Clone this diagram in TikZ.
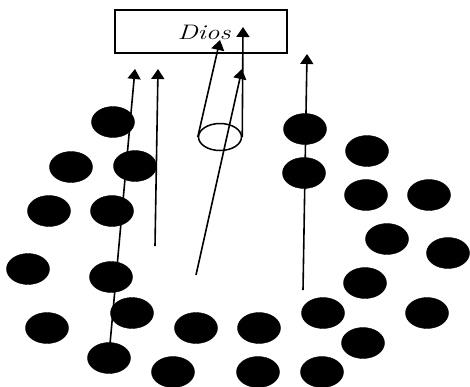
\documentclass[tikz,border=0pt]{standalone}
\usepackage{fontspec}
\setmainfont{Latin Modern Roman}
\usetikzlibrary{shapes.geometric,arrows.meta}
\begin{document}
\begin{tikzpicture}[x=1pt,y=-1pt,
  blob/.style={ellipse,fill=black,draw=black,minimum width=43pt,minimum height=31pt,inner sep=0pt},
  arr/.style={line width=1.6pt,-{Triangle[width=13pt,length=10pt]}}]
\useasboundingbox (0,0) rectangle (470,386);
\node[draw,line width=1.6pt,minimum width=172pt,minimum height=43pt,inner sep=0pt] (dios) at (201,31.5) {};
\node[font=\fontsize{21}{21}\selectfont\itshape\addfontfeature{FakeStretch=1.3},inner sep=0pt] (lbl) at (204,32) {Dios};
\foreach \n/\x/\y in {a1/113/122,a2/71/167,a3/135/166,a4/49/211,a5/112/211,a6/28/269,a7/111/277,a8/132/313,a9/47/328,a10/196/328,a11/109/358,a12/173/372,
 b1/305/129,b2/367/151,b3/304/173,b4/366/195,b5/429/195,b6/387/239,b7/448/253,b8/365/283,b9/323/313,b10/427/313,b11/259/328,b12/363/343,b13/258/372,b14/322/372}
  \node[blob] (\n) at (\x,\y) {};
\node[ellipse,draw,line width=1.5pt,minimum width=43pt,minimum height=27pt,inner sep=0pt] (cyl) at (220,137) {};
\coordinate (t1) at (220,40);
\coordinate (t2) at (243,27);
\coordinate (t3) at (242,69);
\coordinate (t4) at (135,69);
\coordinate (t5) at (158,69);
\coordinate (t6) at (307,54);
\coordinate (s3) at (196,275);
\coordinate (s4) at (108,366);
\coordinate (s5) at (155,246);
\coordinate (s6) at (303,290);
\draw[arr] (cyl.west) -- (t1);
\draw[arr] (cyl.east) -- (t2);
\draw[arr] (s3) -- (t3);
\draw[arr] (s4) -- (t4);
\draw[arr] (s5) -- (t5);
\draw[arr] (s6) -- (t6);
\end{tikzpicture}
\end{document}
